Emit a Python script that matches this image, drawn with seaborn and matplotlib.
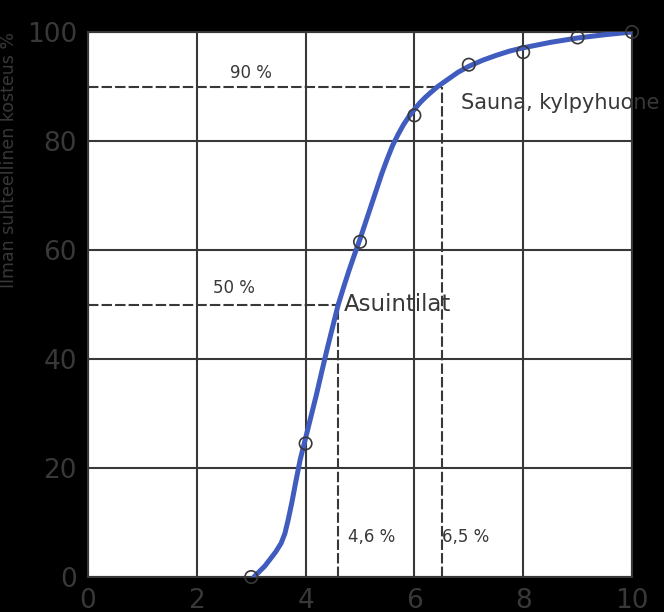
import numpy as np
import pandas as pd
import matplotlib
matplotlib.use("Agg")
import matplotlib.pyplot as plt
import seaborn as sns

# measured points (circles)
meas_x = [3, 4, 5, 6, 7, 8, 9, 10]
meas_y = [0, 24.5, 61.5, 84.7, 94, 96.3, 99, 100]

# fitted curve
curve_x = [3.05, 3.15, 3.25, 3.35, 3.45, 3.55, 3.62, 3.68, 3.75, 3.82, 3.9,
           4.0, 4.1, 4.2, 4.3, 4.4, 4.5, 4.6, 4.7, 4.8, 4.9, 5.0, 5.1, 5.2,
           5.3, 5.4, 5.5, 5.6, 5.7, 5.8, 5.9, 6.0, 6.1, 6.2, 6.3, 6.43, 6.6,
           6.8, 7.0, 7.25, 7.5, 7.75, 8.0, 8.5, 9.0, 9.5, 10.0]
curve_y = [0, 1, 2, 3.3, 4.6, 6.2, 8, 10.5, 13.8, 17.5, 21.5,
           25.5, 29.5, 33.5, 37.8, 42, 46, 50, 53.2, 56.3, 59.2, 62, 65, 68,
           71, 74, 76.7, 79.2, 81.2, 83, 84.5, 85.8, 87, 88, 88.9, 90, 91.2,
           92.6, 93.7, 94.8, 95.7, 96.5, 97.1, 98.1, 98.9, 99.5, 100]

# reference levels
levels = [(4.6, 50), (6.5, 90)]

sns.set_style("white")
plt.rcParams["font.family"] = ["DejaVu Sans"]

grey = "#383838"
fig = plt.figure(figsize=(6.64, 6.12), dpi=100, facecolor="black")
ax = fig.add_axes([88 / 664, 35 / 612, 544 / 664, 545 / 612])
ax.set_facecolor("white")

ax.set_xlim(0, 10)
ax.set_ylim(0, 100)
ax.set_xticks([0, 2, 4, 6, 8, 10])
ax.set_yticks([0, 20, 40, 60, 80, 100])
ax.grid(True, color=grey, lw=1.5)
for s in ax.spines.values():
    s.set_color(grey)
    s.set_linewidth(1.5)
ax.tick_params(length=0, labelsize=19, colors=grey, pad=8)

for xv, yv in levels:
    ax.plot([0, xv], [yv, yv], color=grey, lw=1.5, ls=(0, (5, 1.5)), zorder=2)
    ax.plot([xv, xv], [0, yv], color=grey, lw=1.5, ls=(0, (5, 1.5)), zorder=2)

curve = pd.DataFrame({"x": curve_x, "y": curve_y})
sns.lineplot(data=curve, x="x", y="y", ax=ax, color="#3f5cbe", lw=3.6,
             sort=False, zorder=3)
meas = pd.DataFrame({"x": meas_x, "y": meas_y})
sns.scatterplot(data=meas, x="x", y="y", ax=ax, s=80, facecolor="none",
                edgecolor=grey, linewidth=1.2, zorder=4, clip_on=False)

ax.set_xlabel("")
ax.set_ylabel("Ilman suhteellinen kosteus %", fontsize=12.5, color=grey)
ax.yaxis.set_label_coords(-0.128, 0.765)

ax.text(3.0, 92.5, "90 %", fontsize=12, color=grey, ha="center", va="center")
ax.text(2.68, 53, "50 %", fontsize=12, color=grey, ha="center", va="center")
ax.text(6.85, 87, "Sauna, kylpyhuone", fontsize=15, color=grey, ha="left", va="center")
ax.text(4.7, 50, "Asuintilat", fontsize=16.5, color=grey, ha="left", va="center")
ax.text(4.78, 7.3, "4,6 %", fontsize=12, color=grey, ha="left", va="center")
ax.text(6.5, 7.3, "6,5 %", fontsize=12, color=grey, ha="left", va="center")

fig.savefig("out.png", dpi=100, facecolor="black")
